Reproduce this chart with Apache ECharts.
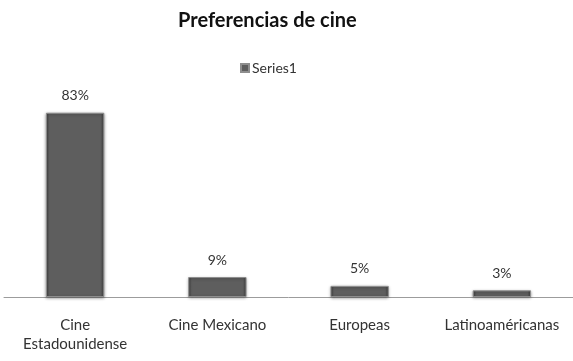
<!DOCTYPE html>
<html>
<head>
<meta charset="utf-8">
<script src="https://cdn.jsdelivr.net/npm/echarts@6/dist/echarts.min.js"></script>
<style>
  html, body { margin: 0; padding: 0; background: #fff; }
  #chart { width: 573px; height: 361px; }
</style>
</head>
<body>
<div id="chart"></div>
<script>
// Preferencias de cine: porcentaje por tipo de cine
const categories = ['Cine\nEstadounidense', 'Cine Mexicano', 'Europeas', 'Latinoaméricanas'];
const seriesName = 'Series1';
const values = [83, 9, 5, 3];

const font = 'Lato, "Noto Sans", sans-serif';

const chart = echarts.init(document.getElementById('chart'));
chart.setOption({
  backgroundColor: '#ffffff',
  animation: false,
  title: {
    text: 'Preferencias de cine',
    left: 173,
    top: 6,
    textStyle: { fontFamily: font, fontSize: 20, fontWeight: 'bold', color: '#111' }
  },
  legend: {
    data: [seriesName],
    top: 56,
    left: 235,
    itemWidth: 8,
    itemHeight: 8,
    itemGap: 4,
    icon: 'rect',
    textStyle: { fontFamily: font, fontSize: 14, color: '#333', padding: [0, 0, 0, -2] }
  },
  grid: { left: 4, width: 572, top: 75, bottom: 64, containLabel: false },
  xAxis: {
    type: 'category',
    data: categories,
    axisLine: { show: true, lineStyle: { color: '#9c9c9c', width: 1 } },
    axisTick: { show: false },
    axisLabel: { fontFamily: font, fontSize: 15, color: '#333', margin: 19, lineHeight: 19, interval: 0 }
  },
  yAxis: {
    type: 'value',
    min: 0,
    max: 100,
    show: false,
    splitLine: { show: false }
  },
  series: [{
    name: seriesName,
    type: 'bar',
    data: values,
    barWidth: '41%',
    itemStyle: {
      color: {
        type: 'linear', x: 0, y: 0, x2: 1, y2: 0,
        colorStops: [
          { offset: 0, color: '#3e3e3e' },
          { offset: 0.06, color: '#5e5e5e' },
          { offset: 0.94, color: '#5e5e5e' },
          { offset: 1, color: '#3e3e3e' }
        ]
      },
      borderColor: '#8e8e8e',
      borderWidth: 1,
      shadowColor: 'rgba(0,0,0,0.35)',
      shadowBlur: 3,
      shadowOffsetY: 1
    },
    label: {
      show: true,
      position: 'top',
      distance: 10,
      formatter: p => p.value + '%',
      fontFamily: font,
      fontSize: 14,
      color: '#333'
    }
  }]
});
</script>
</body>
</html>
